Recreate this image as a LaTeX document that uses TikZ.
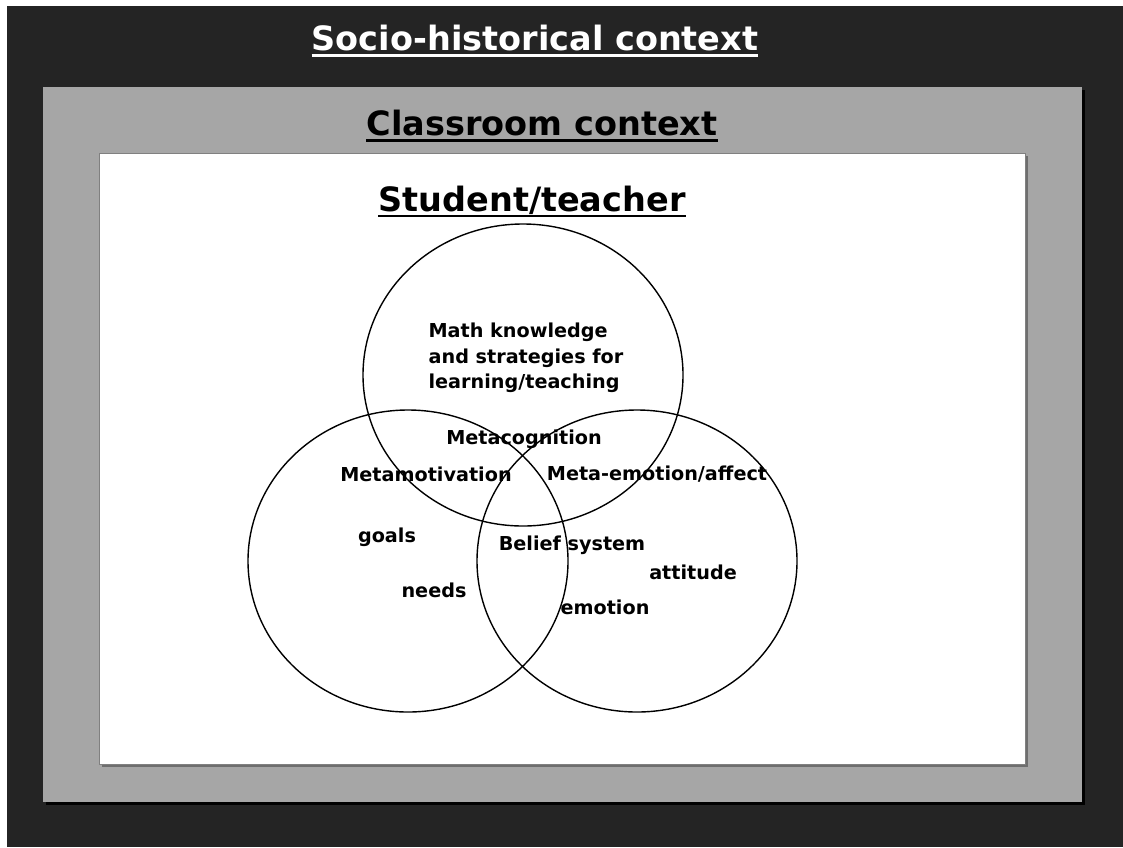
\documentclass[tikz,border=0pt]{standalone}
\usepackage{fontspec}
\setmainfont{DejaVu Sans}
\usetikzlibrary{shapes.geometric}
\definecolor{CtxDark}{HTML}{242424}
\definecolor{CtxGrey}{HTML}{A6A6A6}
\definecolor{CtxShade}{HTML}{6E6E6E}

\begin{document}
\begin{tikzpicture}[x=1pt, y=-1pt,
  ring/.style={draw, ellipse, line width=1.4pt,
               minimum width=320pt, minimum height=302pt, inner sep=0pt},
  heading/.style={font=\fontsize{33.5}{38}\selectfont\bfseries, inner sep=0pt},
  word/.style={font=\fontsize{19.2}{25.5}\selectfont\bfseries, inner sep=0pt,
               align=left}]
  \useasboundingbox (0, 0) rectangle (1123, 847);
  % nested contexts
  \fill[CtxDark] (7, 6) rectangle (1123, 847);
  \fill[black] (46, 90) rectangle (1085, 805);
  \fill[CtxGrey] (43, 87) rectangle (1082, 802);
  \fill[CtxShade] (102, 156) rectangle (1028, 767);
  \fill[white, draw=gray] (99, 153) rectangle (1025, 764);
  % headings
  \node[heading, white] (soc) at (535, 38) {Socio-historical context};
  \node[heading] (cls) at (542, 123) {Classroom context};
  \node[heading] (stu) at (532, 200) {Student/teacher};
  \draw[white, line width=2.5pt] ([yshift=-5pt]soc.base west) -- ([yshift=-5pt]soc.base east);
  \draw[line width=2.5pt] ([yshift=-5pt]cls.base west) -- ([yshift=-5pt]cls.base east);
  \draw[line width=2.5pt] ([yshift=-5pt]stu.base west) -- ([yshift=-5pt]stu.base east);
  % the three circles
  \node[ring] (know) at (523, 375) {};
  \node[ring] (motiv) at (408, 561) {};
  \node[ring] (affect) at (637, 561) {};
  % labels
  \node[word] (math) at (526, 358) {Math knowledge\\and strategies for\\learning/teaching};
  \node[word] (mcog) at (524, 439) {Metacognition};
  \node[word] (mmot) at (426, 474) {Metamotivation};
  \node[word] (memo) at (657, 474) {Meta-emotion/affect};
  \node[word] (goals) at (387, 537) {goals};
  \node[word] (belief) at (572, 545) {Belief system};
  \node[word] (att) at (693, 572) {attitude};
  \node[word] (needs) at (434, 590) {needs};
  \node[word] (emo) at (605, 607) {emotion};
\end{tikzpicture}
\end{document}
